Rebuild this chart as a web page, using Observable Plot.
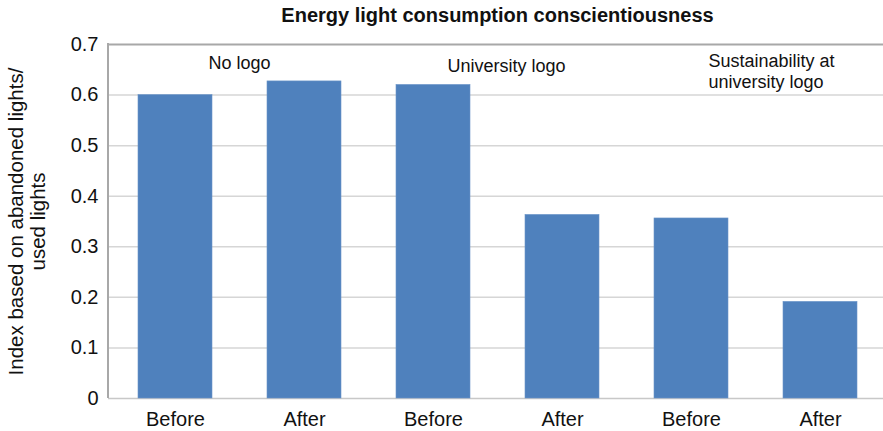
<!DOCTYPE html>
<html>
<head>
<meta charset="utf-8">
<script src="https://cdn.jsdelivr.net/npm/d3@7"></script>
<script src="https://cdn.jsdelivr.net/npm/@observablehq/plot@0.6"></script>
<style>
  html, body { margin: 0; padding: 0; background: #fff; }
  #wrap { width: 883px; height: 431px; overflow: hidden; position: relative; }
  #title { height: 30px; line-height: 30px; padding-left: 108px; width: 779px; text-align: center;
           font-family: "Liberation Sans", Arial, sans-serif; font-weight: bold; font-size: 20px; color: #111; }
  svg { display: block; }
</style>
</head>
<body>
<div id="wrap">
  <div id="title">Energy light consumption conscientiousness</div>
  <div id="chart"></div>
</div>
<script>
// ---- data ----
const barIds = ["b1", "b2", "b3", "b4", "b5", "b6"];
const tickLabels = ["Before", "After", "Before", "After", "Before", "After"];
const values = [0.600, 0.627, 0.620, 0.363, 0.356, 0.191];
const yTicks = [0, 0.1, 0.2, 0.3, 0.4, 0.5, 0.6, 0.7];
const groupLabels = ["No logo", "University logo", "Sustainability at\nuniversity logo"];
const groupBars = ["b1", "b3", "b5"];
const groupY = [0.676, 0.671, 0.686];
const yTitle = "Index based on abandoned lights/\nused lights";

const bars = barIds.map((id, i) => ({id, label: tickLabels[i], value: values[i]}));
const groups = groupLabels.map((label, i) => ({label, bar: groupBars[i], y: groupY[i]}));
const labelOf = new Map(bars.map(d => [d.id, d.label]));

const font = '"Liberation Sans", Arial, sans-serif';

// left axis line drawn through the library's scales
const leftAxisLine = (index, scales, values, dimensions) => {
  const y = scales.y;
  const x0 = dimensions.marginLeft;
  const g = d3.create("svg:line")
    .attr("x1", x0).attr("x2", x0)
    .attr("y1", y(yTicks[0])).attr("y2", y(yTicks[yTicks.length - 1]) - 1)
    .attr("stroke", "#a8a8a8").attr("stroke-width", 2);
  return g.node();
};

const chart = Plot.plot({
  width: 883,
  height: 401,
  marginTop: 14,
  marginBottom: 33,
  marginLeft: 108,
  marginRight: 0,
  style: {fontFamily: font, color: "#111", background: "#fff"},
  x: {domain: barIds, range: [108, 887], paddingInner: 0.43, paddingOuter: 0.215, align: 0.5},
  y: {domain: [0, 0.7], range: [368, 14]},
  marks: [
    Plot.ruleY(yTicks.filter(t => t > 0 && t < 0.7), {stroke: "#d6d6d6", strokeWidth: 1.5}),
    Plot.ruleY([0], {stroke: "#c8c8c8", strokeWidth: 1.5}),
    Plot.ruleY([0.7], {stroke: "#a8a8a8", strokeWidth: 2}),
    Plot.barY(bars, {x: "id", y: "value", fill: "#4f81bd", stroke: "#6b95c8", strokeWidth: 0.6}),
    leftAxisLine,
    Plot.axisY({ticks: yTicks, tickSize: 0, tickPadding: 10, fontSize: 20, label: null,
                tickFormat: d => d === 0 ? "0" : d3.format(".1f")(d)}),
    Plot.axisX({tickSize: 0, tickPadding: 13, fontSize: 20, label: null, tickFormat: d => labelOf.get(d)}),
    Plot.text([groups[0]], {x: "bar", y: "y", text: "label", dx: 64, textAnchor: "middle", lineAnchor: "top", fontSize: 18, fill: "#111"}),
    Plot.text([groups[1]], {x: "bar", y: "y", text: "label", dx: 73, textAnchor: "middle", lineAnchor: "top", fontSize: 18, fill: "#111"}),
    Plot.text([groups[2]], {x: "bar", y: "y", text: "label", dx: 17, textAnchor: "start", lineAnchor: "top", fontSize: 18, lineHeight: 1.17, fill: "#111"}),
    Plot.text([yTitle], {frameAnchor: "left", text: d => d, rotate: -90, dx: -82, fontSize: 20.5, lineHeight: 1.08, textAnchor: "middle", lineAnchor: "middle", fill: "#111"})
  ]
});
document.getElementById("chart").appendChild(chart);
</script>
</body>
</html>
